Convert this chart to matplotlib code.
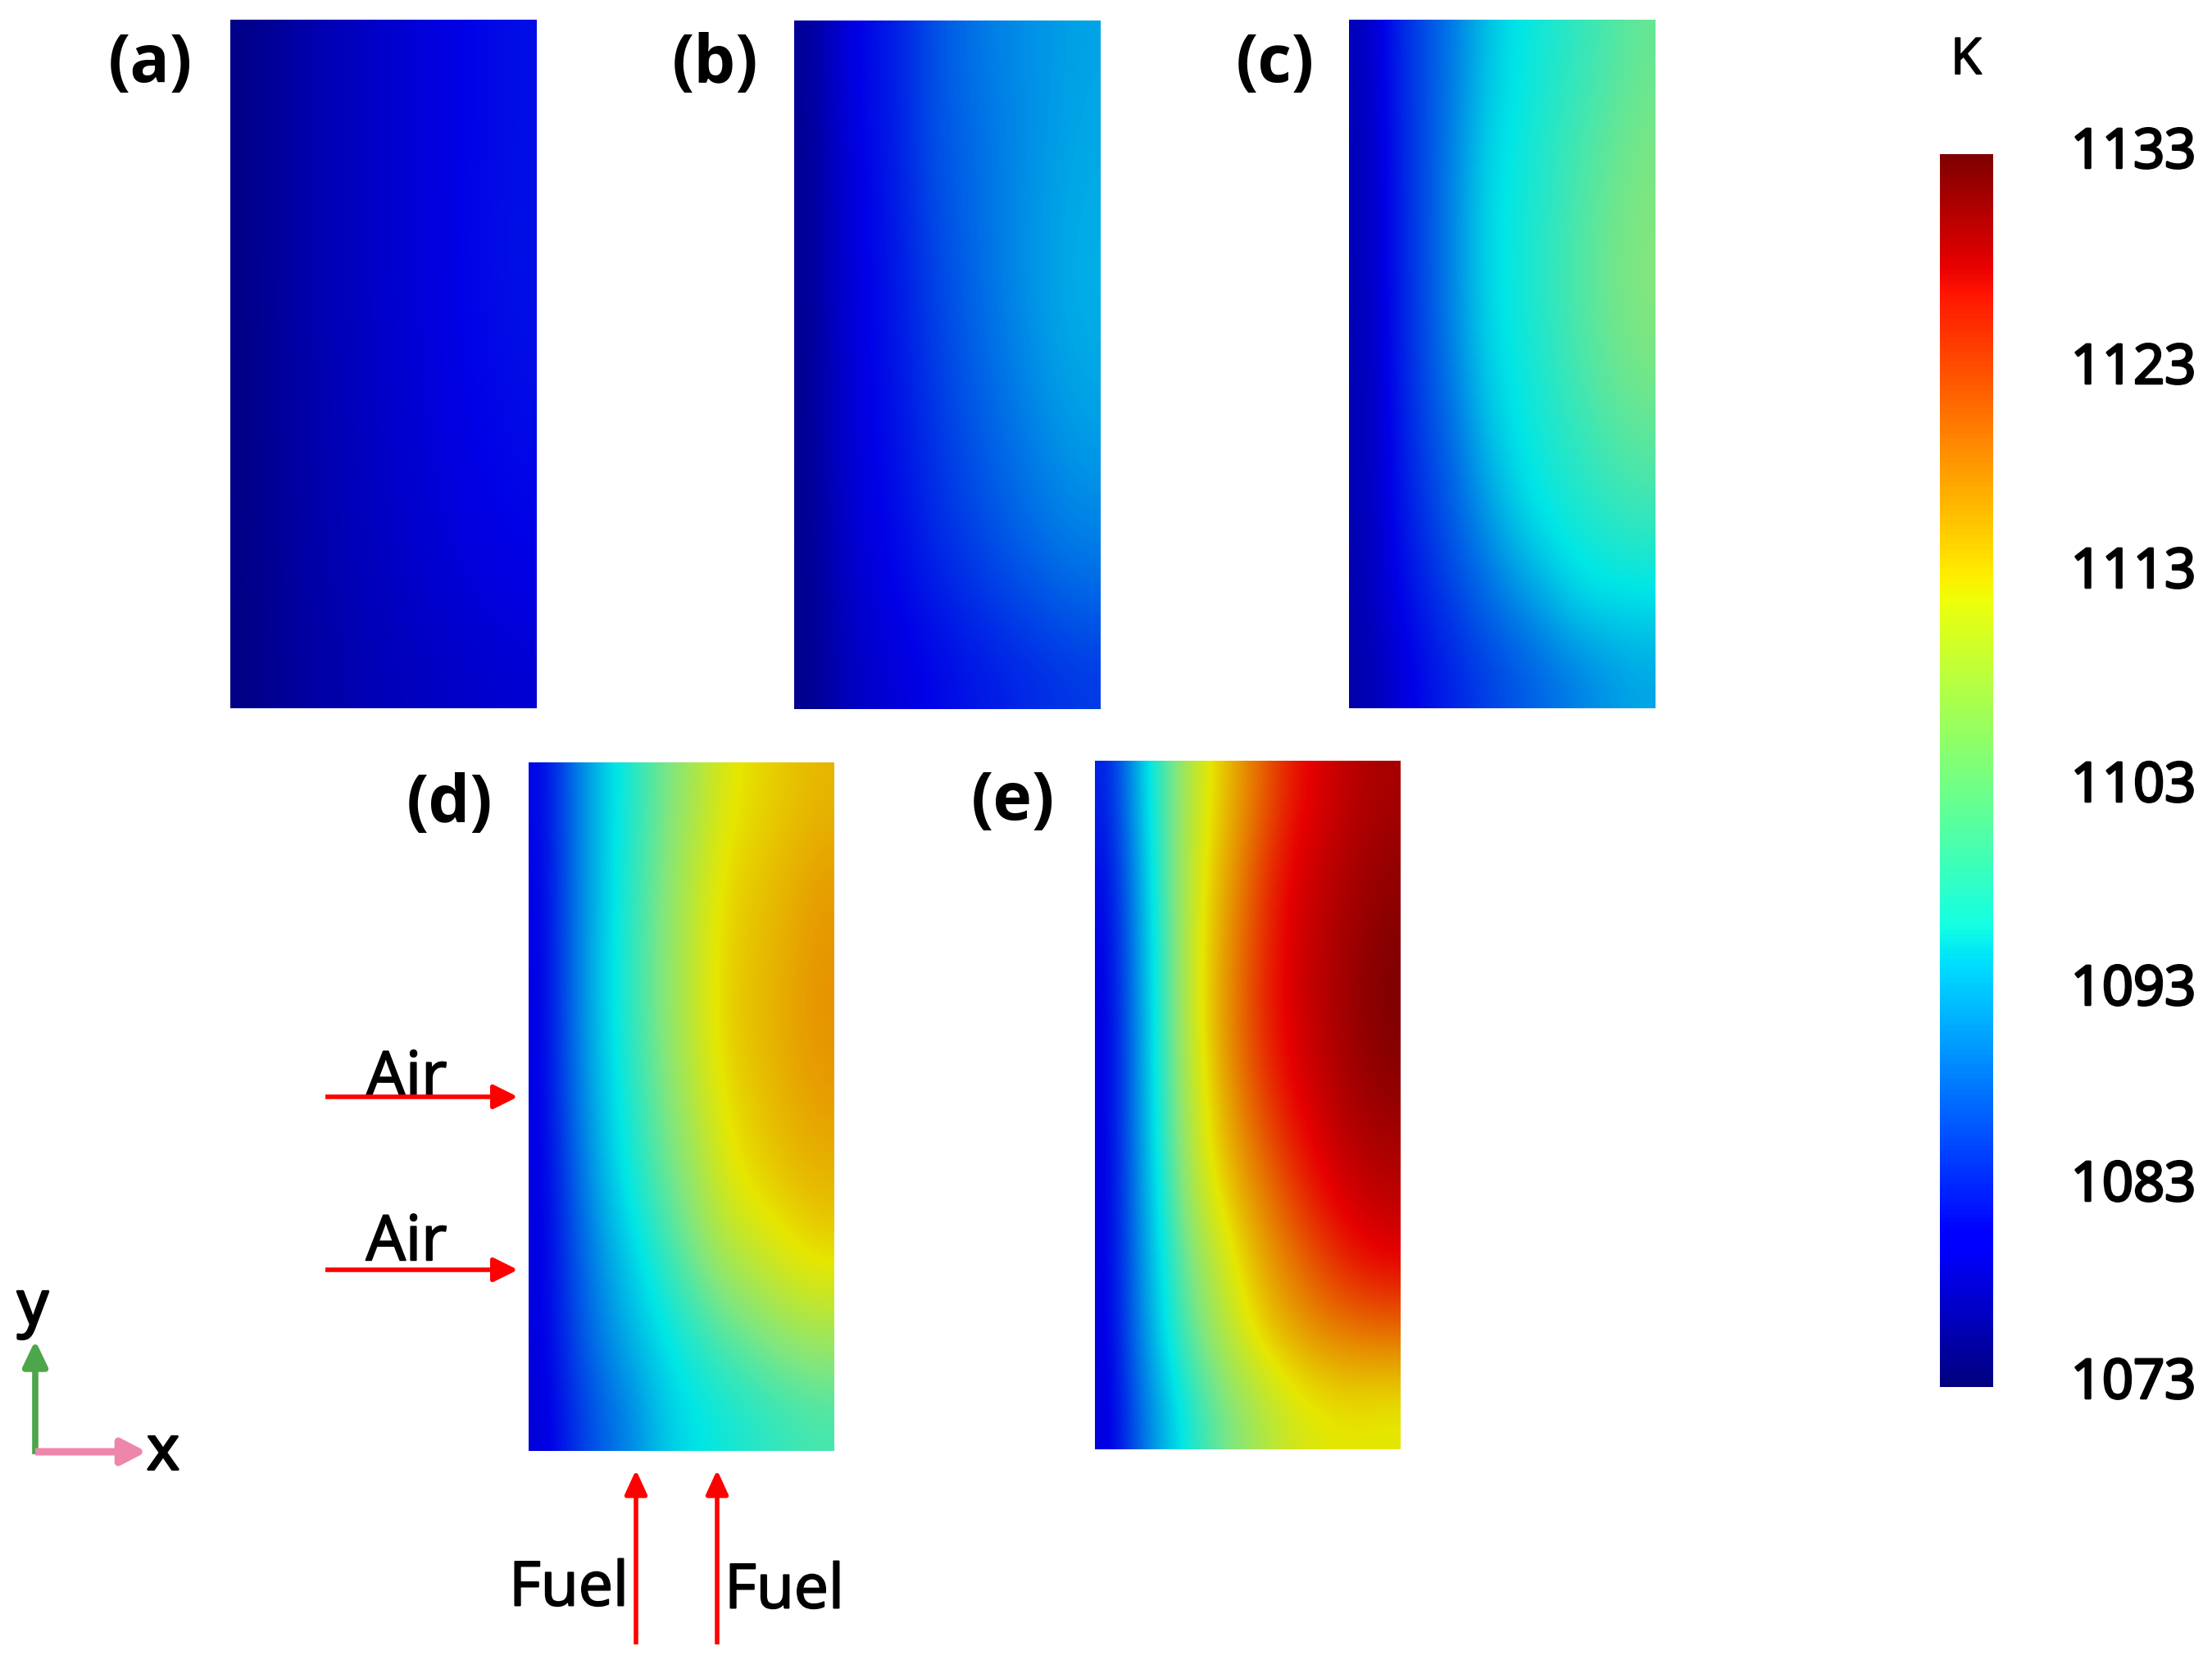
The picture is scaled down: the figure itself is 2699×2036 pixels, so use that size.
import matplotlib
matplotlib.use("Agg")
import matplotlib.pyplot as plt
import matplotlib.patheffects as pe
import numpy as np
from matplotlib.colors import LinearSegmentedColormap, Normalize
from matplotlib.cm import ScalarMappable

# temperature, rows top to bottom, columns left to right
T_a = [
    [1073.6, 1074.8, 1075.9, 1076.7, 1077.5, 1078.3, 1079.0, 1079.6, 1080.2, 1080.6],
    [1073.6, 1074.8, 1075.9, 1076.7, 1077.5, 1078.3, 1079.0, 1079.6, 1080.2, 1080.6],
    [1073.6, 1074.8, 1075.9, 1076.7, 1077.5, 1078.3, 1079.0, 1079.7, 1080.3, 1080.7],
    [1073.6, 1074.8, 1075.9, 1076.7, 1077.5, 1078.3, 1079.0, 1079.7, 1080.3, 1080.7],
    [1073.5, 1074.7, 1075.8, 1076.6, 1077.4, 1078.2, 1078.9, 1079.6, 1080.1, 1080.5],
    [1073.5, 1074.7, 1075.7, 1076.5, 1077.3, 1078.0, 1078.7, 1079.4, 1079.9, 1080.2],
    [1073.5, 1074.6, 1075.6, 1076.4, 1077.1, 1077.8, 1078.4, 1079.1, 1079.6, 1079.9],
    [1073.4, 1074.5, 1075.4, 1076.1, 1076.8, 1077.4, 1078.0, 1078.5, 1079.0, 1079.3],
    [1073.4, 1074.4, 1075.2, 1075.8, 1076.4, 1076.9, 1077.3, 1077.7, 1078.1, 1078.4],
]
T_b = [
    [1074.5, 1078.5, 1080.5, 1082.0, 1085.0, 1087.0, 1088.5, 1089.5, 1090.3, 1091.0],
    [1074.3, 1078.2, 1080.3, 1082.0, 1085.0, 1086.5, 1088.0, 1089.3, 1090.5, 1091.3],
    [1074.3, 1078.0, 1080.0, 1081.8, 1084.5, 1086.3, 1088.0, 1089.5, 1090.8, 1091.6],
    [1074.3, 1078.0, 1080.0, 1081.5, 1084.0, 1086.0, 1087.8, 1089.5, 1091.0, 1091.8],
    [1074.2, 1077.8, 1079.8, 1081.3, 1083.5, 1085.5, 1087.3, 1089.0, 1090.5, 1091.3],
    [1074.2, 1077.8, 1079.6, 1081.0, 1083.0, 1084.8, 1086.5, 1088.0, 1089.5, 1090.5],
    [1074.0, 1077.5, 1079.4, 1080.5, 1082.5, 1084.0, 1085.5, 1087.0, 1088.3, 1089.0],
    [1074.0, 1077.0, 1078.8, 1080.0, 1081.3, 1082.5, 1083.8, 1085.0, 1086.0, 1086.8],
    [1073.8, 1076.5, 1078.0, 1079.0, 1079.8, 1080.8, 1081.5, 1082.3, 1083.0, 1083.5],
]
T_c = [
    [1076.8, 1081.5, 1085.0, 1088.5, 1093.0, 1095.5, 1097.0, 1098.5, 1100.0, 1101.5],
    [1076.5, 1081.2, 1085.0, 1089.0, 1094.0, 1096.0, 1097.7, 1099.5, 1101.0, 1102.5],
    [1076.5, 1081.0, 1085.0, 1089.5, 1094.5, 1096.3, 1098.0, 1100.0, 1101.8, 1103.0],
    [1076.5, 1081.0, 1085.0, 1089.5, 1094.5, 1096.5, 1098.2, 1100.2, 1102.0, 1103.3],
    [1076.3, 1080.8, 1084.8, 1089.0, 1094.0, 1096.0, 1097.8, 1099.8, 1101.5, 1102.6],
    [1076.3, 1080.5, 1084.3, 1087.5, 1092.5, 1095.5, 1097.0, 1098.5, 1100.0, 1101.0],
    [1076.3, 1080.2, 1083.3, 1086.5, 1090.0, 1093.8, 1096.0, 1097.0, 1098.0, 1098.8],
    [1076.2, 1079.6, 1082.0, 1084.5, 1087.0, 1089.5, 1092.0, 1094.9, 1095.3, 1095.5],
    [1075.8, 1078.3, 1080.5, 1082.2, 1084.0, 1085.5, 1087.0, 1088.5, 1090.0, 1091.0],
]
T_d = [
    [1079.8, 1087.5, 1094.0, 1098.0, 1102.5, 1106.5, 1110.8, 1112.3, 1113.5, 1114.5],
    [1079.5, 1087.5, 1094.0, 1098.5, 1103.5, 1108.3, 1112.3, 1113.5, 1114.7, 1116.0],
    [1079.3, 1087.5, 1094.2, 1098.8, 1103.8, 1108.8, 1112.8, 1114.0, 1115.3, 1116.7],
    [1079.3, 1087.5, 1094.2, 1098.8, 1103.8, 1109.0, 1113.0, 1114.2, 1115.5, 1116.8],
    [1079.2, 1087.0, 1093.5, 1098.0, 1102.8, 1107.5, 1112.0, 1113.5, 1115.0, 1116.0],
    [1079.0, 1086.0, 1092.5, 1097.0, 1101.2, 1105.5, 1110.5, 1112.5, 1113.8, 1114.6],
    [1079.0, 1085.0, 1090.5, 1094.5, 1098.5, 1102.5, 1106.3, 1108.5, 1110.8, 1112.2],
    [1079.0, 1084.5, 1089.0, 1092.5, 1095.5, 1098.0, 1100.5, 1102.5, 1104.5, 1105.8],
    [1078.5, 1083.0, 1086.5, 1089.5, 1093.5, 1095.3, 1096.5, 1097.7, 1098.8, 1099.5],
]
T_e = [
    [1081.5, 1093.0, 1102.0, 1110.0, 1115.0, 1120.0, 1125.0, 1127.5, 1129.3, 1130.5],
    [1080.0, 1091.5, 1102.0, 1111.3, 1116.5, 1122.5, 1127.0, 1128.8, 1130.5, 1131.8],
    [1079.3, 1091.0, 1101.5, 1112.0, 1117.5, 1123.5, 1127.5, 1129.5, 1131.3, 1132.8],
    [1079.0, 1090.5, 1101.5, 1112.0, 1118.0, 1123.8, 1127.5, 1129.5, 1131.5, 1133.0],
    [1079.0, 1090.5, 1101.0, 1110.8, 1116.5, 1122.0, 1126.0, 1128.5, 1130.5, 1131.5],
    [1079.0, 1090.0, 1100.0, 1109.5, 1114.5, 1118.5, 1123.0, 1126.5, 1128.5, 1129.5],
    [1079.0, 1089.5, 1098.0, 1105.5, 1111.0, 1115.5, 1119.0, 1122.5, 1125.3, 1126.8],
    [1078.8, 1089.0, 1097.0, 1103.0, 1108.5, 1113.0, 1115.5, 1117.5, 1118.5, 1119.0],
    [1078.5, 1087.0, 1093.5, 1099.0, 1103.0, 1106.5, 1109.5, 1110.8, 1111.2, 1110.8],
]
panel_fields = [T_a, T_b, T_c, T_d, T_e]
panel_names = ["(a)", "(b)", "(c)", "(d)", "(e)"]
cbar_labels = ["1133", "1123", "1113", "1103", "1093", "1083", "1073"]
t_min = 1073
t_max = 1133

W, H = 2699, 2036
FONT = "Open Sans"

# panel boxes in pixels: left, top, right, bottom
panel_boxes = [(281, 24, 655, 864), (969, 25, 1343, 865), (1646, 24, 2020, 864),
               (645, 930, 1018, 1770), (1336, 928, 1709, 1768)]
name_pos = [(183, 79), (873, 79), (1556, 79), (549, 982), (1236, 979)]
cbar_label_y = [187, 450, 699, 960, 1208, 1447, 1688]

# the panels render a little duller than the colour bar, which is plain jet
panel_cmap = LinearSegmentedColormap.from_list("panel_jet", [
    (0.0, "#000080"), (0.11, "#0000e6"), (0.375, "#00e6e6"), (0.5, "#80e680"),
    (0.64, "#e6e600"), (0.89, "#e60000"), (1.0, "#800000")], N=512)
norm = Normalize(t_min, t_max)

# regular weight with a thin stroke sits between the regular and bold faces
medium = [pe.withStroke(linewidth=1.4, foreground="black")]
heavy = [pe.withStroke(linewidth=2.2, foreground="black")]


def box_axes(box):
    l, t, r, b = box
    ax = fig.add_axes([l / W, 1 - b / H, (r - l) / W, (b - t) / H])
    ax.set_axis_off()
    return ax


def arrow(ax, start, end, color, lw, head_l, head_w):
    style = f"-|>,head_length={head_l / 20:.2f},head_width={head_w / 40:.2f}"
    ax.annotate("", xy=end, xytext=start, arrowprops=dict(
        arrowstyle=style, mutation_scale=20 * 0.72, color=color, lw=lw,
        shrinkA=0, shrinkB=0, capstyle="butt"))


fig = plt.figure(figsize=(W / 100, H / 100), dpi=100, facecolor="white")

for field, box in zip(panel_fields, panel_boxes):
    ax = box_axes(box)
    ax.imshow(np.array(field), cmap=panel_cmap, norm=norm, aspect="auto",
              interpolation="bicubic")

cax = box_axes((2367, 188, 2432, 1692))
cbar = fig.colorbar(ScalarMappable(norm=norm, cmap="jet"), cax=cax)
cbar.outline.set_visible(False)
cbar.set_ticks([])

# overlay in reference pixels for the labels and arrows
over = fig.add_axes([0, 0, 1, 1], zorder=5)
over.set_xlim(0, W)
over.set_ylim(H, 0)
over.set_axis_off()
over.patch.set_alpha(0)

for name, (x, y) in zip(panel_names, name_pos):
    over.text(x, y, name, family=FONT, fontsize=58, fontweight="bold", ha="center", va="center")
for lab, y in zip(cbar_labels, cbar_label_y):
    over.text(2603, y, lab, family=FONT, fontsize=48, ha="center", va="center", path_effects=heavy)
over.text(2399, 74, "K", family=FONT, fontsize=44, ha="center", va="center", path_effects=medium)

for y in (1317, 1517):
    over.text(496, y, "Air", family=FONT, fontsize=55, ha="center", va="center", path_effects=medium)
over.text(694, 1939, "Fuel", family=FONT, fontsize=54, ha="center", va="center", path_effects=medium)
over.text(957, 1942, "Fuel", family=FONT, fontsize=54, ha="center", va="center", path_effects=medium)
over.text(40, 1596, "y", family=FONT, fontsize=54, ha="center", va="center", path_effects=heavy)
over.text(199, 1773, "x", family=FONT, fontsize=54, ha="center", va="center", path_effects=heavy)

arrow(over, (397, 1338), (632, 1338), "#ff0000", 4, 25, 25)
arrow(over, (397, 1549), (632, 1549), "#ff0000", 4, 25, 25)
arrow(over, (776, 2006), (776, 1793), "#ff0000", 4, 25, 23)
arrow(over, (875, 2006), (875, 1793), "#ff0000", 4, 25, 23)
arrow(over, (43, 1774), (43, 1635), "#4ea64a", 5.5, 26, 25)
arrow(over, (43, 1771), (179, 1771), "#ee86ac", 6.5, 25, 26)

fig.savefig("out.png", dpi=100)
